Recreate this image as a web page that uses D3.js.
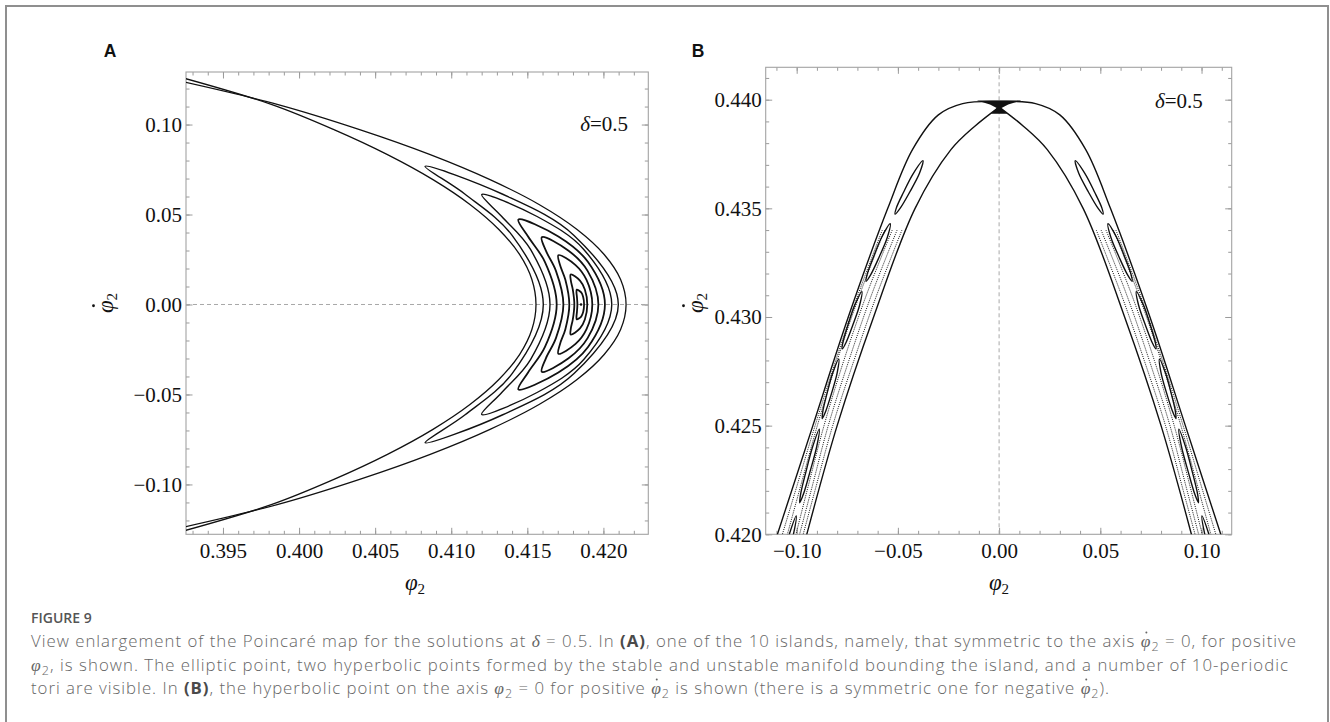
<!DOCTYPE html>
<html><head><meta charset="utf-8">
<script src="https://cdn.jsdelivr.net/npm/d3@7"></script>
<style>
body{margin:0;background:#fff;}
svg{display:block;}
</style></head><body>
<svg id="chart" width="1330" height="722"></svg>
<script>
// ---------------- DATA ----------------
// Panel A
const aXDomain = [0.39257, 0.42295];
const aYDomain = [-0.1277, 0.1292];
const aXMajor = [0.395, 0.400, 0.405, 0.410, 0.415, 0.420];
const aYMajor = [-0.10, -0.05, 0.00, 0.05, 0.10];
const aOuter = [[0.3920,0.1245],[0.39862,0.1111],[0.40398,0.0972],[0.40862,0.0833],[0.41255,0.0694],[0.41577,0.0556],[0.41827,0.0417],[0.42005,0.0278],[0.42113,0.0139],[0.42149,0],[0.42113,-0.0139],[0.42005,-0.0278],[0.41827,-0.0417],[0.41577,-0.0556],[0.41255,-0.0694],[0.40862,-0.0833],[0.40398,-0.0972],[0.39862,-0.1111],[0.3920,-0.1245]];
const aInner = [[0.3920,0.1268],[0.39822,0.1111],[0.40229,0.0972],[0.40581,0.0833],[0.40880,0.0694],[0.41123,0.0556],[0.41313,0.0417],[0.41449,0.0278],[0.41530,0.0139],[0.41557,0],[0.41530,-0.0139],[0.41449,-0.0278],[0.41313,-0.0417],[0.41123,-0.0556],[0.40880,-0.0694],[0.40581,-0.0833],[0.40229,-0.0972],[0.39822,-0.1111],[0.3920,-0.1268]];
const aLoop1 = [[0.40828,0.0768],[0.41335,0.0614],[0.41807,0.0384],[0.42098,0],[0.41807,-0.0384],[0.41335,-0.0614],[0.40828,-0.0768],[0.41089,-0.0614],[0.41400,-0.0384],[0.41605,0],[0.41400,0.0384],[0.41089,0.0614]];
const aLoop2 = [[0.41200,0.0611],[0.41564,0.0489],[0.41871,0.0306],[0.42055,0],[0.41871,-0.0306],[0.41564,-0.0489],[0.41200,-0.0611],[0.41332,-0.0489],[0.41521,-0.0306],[0.41649,0],[0.41521,0.0306],[0.41332,0.0489]];
const aLoop3 = [[0.41441,0.0472],[0.41704,0.0378],[0.41899,0.0236],[0.42010,0],[0.41899,-0.0236],[0.41704,-0.0378],[0.41441,-0.0472],[0.41505,-0.0378],[0.41616,-0.0236],[0.41693,0],[0.41616,0.0236],[0.41505,0.0378]];
const aLoop4 = [[0.41595,0.0374],[0.41771,0.0299],[0.41896,0.0187],[0.41967,0],[0.41896,-0.0187],[0.41771,-0.0299],[0.41595,-0.0374],[0.41622,-0.0299],[0.41688,-0.0187],[0.41737,0],[0.41688,0.0187],[0.41622,0.0299]];
const aLoop5 = [[0.41704,0.0274],[0.41817,0.0219],[0.41889,0.0137],[0.41927,0],[0.41889,-0.0137],[0.41817,-0.0219],[0.41704,-0.0274],[0.41715,-0.0219],[0.41750,-0.0137],[0.41776,0],[0.41750,0.0137],[0.41715,0.0219]];
const aLoop6 = [[0.41785,0.0167],[0.41846,0.0133],[0.41878,0.0083],[0.41894,0],[0.41878,-0.0083],[0.41846,-0.0133],[0.41785,-0.0167],[0.41786,-0.0133],[0.41799,-0.0083],[0.41809,0],[0.41799,0.0083],[0.41786,0.0133]];
const aLoop7 = [[0.41825,0.0083],[0.41854,0.0067],[0.41867,0.0042],[0.41873,0],[0.41867,-0.0042],[0.41854,-0.0067],[0.41825,-0.0083],[0.41823,-0.0067],[0.41826,-0.0042],[0.41829,0],[0.41826,0.0042],[0.41823,0.0067]];
const aCenter = [[0.41853, 0]];

// Panel B
const bXDomain = [-0.1153, 0.1149];
const bYDomain = [0.420, 0.44149];
const bXMajor = [-0.10, -0.05, 0.00, 0.05, 0.10];
const bYMajor = [0.420, 0.425, 0.430, 0.435, 0.440];
const bOuter = [[-0.1165,0.418],[-0.1095,0.420],[-0.092,0.425],[-0.0745,0.430],[-0.055,0.435],[-0.0428,0.4377],[-0.030,0.4393],[-0.018,0.43982],[0,0.43992],[0.018,0.43982],[0.030,0.4393],[0.0428,0.4377],[0.055,0.435],[0.0745,0.430],[0.092,0.425],[0.1095,0.420],[0.1165,0.418]];
const bInnerLeft = [[-0.1005,0.418],[-0.095,0.420],[-0.080,0.425],[-0.062,0.430],[-0.0415,0.435],[-0.0238,0.4377],[-0.012,0.43878],[0,0.43966]];
const bInnerRight = [[0,0.43966],[0.012,0.43878],[0.0238,0.4377],[0.0415,0.435],[0.062,0.430],[0.080,0.425],[0.095,0.420],[0.1005,0.418]];
const bBlob = [[-0.011,0.43996],[0.011,0.43996],[0.0045,0.43978],[0.0012,0.43962],[0.004,0.43935],[-0.004,0.43935],[-0.0012,0.43962],[-0.0045,0.43978]];
const bIslandsLeft = [
  [[-0.0376,0.43719],[-0.04234,0.43661],[-0.0472,0.43574],[-0.05075,0.43502],[-0.05137,0.43473],[-0.04875,0.43502],[-0.0442,0.43574],[-0.03934,0.43661]],
  [[-0.0538,0.43429],[-0.0580,0.43367],[-0.0622,0.43273],[-0.0652,0.43195],[-0.0657,0.43164],[-0.0634,0.43195],[-0.0594,0.43273],[-0.0552,0.43367]],
  [[-0.0678,0.43117],[-0.07128,0.43055],[-0.0747,0.42962],[-0.07715,0.42884],[-0.07749,0.42853],[-0.07555,0.42884],[-0.0723,0.42962],[-0.06888,0.43055]],
  [[-0.0792,0.42806],[-0.08222,0.42742],[-0.0851,0.42645],[-0.0871,0.42565],[-0.08736,0.42532],[-0.0857,0.42565],[-0.0829,0.42645],[-0.08002,0.42742]],
  [[-0.0888,0.42484],[-0.09208,0.42404],[-0.0955,0.42285],[-0.09805,0.42185],[-0.09849,0.42145],[-0.09665,0.42185],[-0.0935,0.42285],[-0.09008,0.42404]],
  [[-0.1002,0.42085],[-0.10348,0.42005],[-0.1069,0.41886],[-0.10945,0.41786],[-0.10989,0.41746],[-0.10805,0.41786],[-0.1049,0.41886],[-0.10148,0.42005]]
];
const bIslandsRight = [
  [[0.0376,0.43719],[0.04234,0.43661],[0.0472,0.43574],[0.05075,0.43502],[0.05137,0.43473],[0.04875,0.43502],[0.0442,0.43574],[0.03934,0.43661]],
  [[0.0538,0.43429],[0.0580,0.43367],[0.0622,0.43273],[0.0652,0.43195],[0.0657,0.43164],[0.0634,0.43195],[0.0594,0.43273],[0.0552,0.43367]],
  [[0.0678,0.43117],[0.07128,0.43055],[0.0747,0.42962],[0.07715,0.42884],[0.07749,0.42853],[0.07555,0.42884],[0.0723,0.42962],[0.06888,0.43055]],
  [[0.0792,0.42806],[0.08222,0.42742],[0.0851,0.42645],[0.0871,0.42565],[0.08736,0.42532],[0.0857,0.42565],[0.0829,0.42645],[0.08002,0.42742]],
  [[0.0888,0.42484],[0.09208,0.42404],[0.0955,0.42285],[0.09805,0.42185],[0.09849,0.42145],[0.09665,0.42185],[0.0935,0.42285],[0.09008,0.42404]],
  [[0.1002,0.42085],[0.10348,0.42005],[0.1069,0.41886],[0.10945,0.41786],[0.10989,0.41746],[0.10805,0.41786],[0.1049,0.41886],[0.10148,0.42005]]
];
const bChaosLeft = [
  [[-0.0577,0.434],[-0.0698,0.431],[-0.0807,0.428],[-0.0909,0.425],[-0.1006,0.422],[-0.1119,0.4185]],
  [[-0.0565,0.434],[-0.0690,0.431],[-0.0800,0.428],[-0.0898,0.425],[-0.0987,0.422],[-0.1090,0.4185]],
  [[-0.0528,0.434],[-0.0656,0.431],[-0.0767,0.428],[-0.0865,0.425],[-0.0949,0.422],[-0.1044,0.4185]],
  [[-0.0504,0.434],[-0.0631,0.431],[-0.0742,0.428],[-0.0844,0.425],[-0.0929,0.422],[-0.1028,0.4185]],
  [[-0.0480,0.434],[-0.0605,0.431],[-0.0717,0.428],[-0.0822,0.425],[-0.0910,0.422],[-0.1011,0.4185]]
];
const bChaosRight = [
  [[0.0577,0.434],[0.0698,0.431],[0.0807,0.428],[0.0909,0.425],[0.1006,0.422],[0.1119,0.4185]],
  [[0.0565,0.434],[0.0690,0.431],[0.0800,0.428],[0.0898,0.425],[0.0987,0.422],[0.1090,0.4185]],
  [[0.0528,0.434],[0.0656,0.431],[0.0767,0.428],[0.0865,0.425],[0.0949,0.422],[0.1044,0.4185]],
  [[0.0504,0.434],[0.0631,0.431],[0.0742,0.428],[0.0844,0.425],[0.0929,0.422],[0.1028,0.4185]],
  [[0.0480,0.434],[0.0605,0.431],[0.0717,0.428],[0.0822,0.425],[0.0910,0.422],[0.1011,0.4185]]
];

const deltaLabel = "0.5";
const captionTitle = "FIGURE 9";
// segment styles: "" plain, "m" math italic, "md" math italic with dot above, "b" bold, "s" subscript
const captionLines = [
  [["View enlargement of the Poincaré map for the solutions at ",""],["δ","m"],[" = 0.5. In ",""],["(A)","b"],[", one of the 10 islands, namely, that symmetric to the axis ",""],["φ","md"],["2","s"],[" = 0, for positive",""]],
  [["φ","m"],["2","s"],[", is shown. The elliptic point, two hyperbolic points formed by the stable and unstable manifold bounding the island, and a number of 10-periodic",""]],
  [["tori are visible. In ",""],["(B)","b"],[", the hyperbolic point on the axis ",""],["φ","m"],["2","s"],[" = 0 for positive ",""],["φ","md"],["2","s"],[" is shown (there is a symmetric one for negative ",""],["φ","md"],["2","s"],[").",""]]
];

// ---------------- DRAW ----------------
const svg = d3.select("#chart");
const SERIF = "'Liberation Serif','Times New Roman',serif";
const SANS = "'Liberation Sans',Arial,sans-serif";
const FRAME = "#a3a3a3";

svg.append("rect").attr("x",6).attr("y",6).attr("width",1322).attr("height",760)
  .attr("fill","none").attr("stroke","#8f8f8f").attr("stroke-width",2);

function panel(o){
  const g = svg.append("g");
  const [x0,x1] = o.x.range(), [y0,y1] = o.y.range();
  const cid = "clip"+o.id;
  g.append("clipPath").attr("id",cid).append("rect")
    .attr("x",x0).attr("y",y1).attr("width",x1-x0).attr("height",y0-y1);
  const style = sel => {
    sel.select(".domain").remove();
    sel.selectAll(".tick line").attr("stroke","#9a9a9a").attr("stroke-width",1);
    sel.selectAll(".tick text").attr("font-family",SERIF).attr("font-size",21).attr("fill","#111");
  };
  const blank = () => "";
  g.append("g").attr("transform",`translate(0,${y0})`).call(d3.axisBottom(o.x).tickValues(o.xMinor).tickSizeInner(-3.5).tickSizeOuter(0).tickFormat(blank)).call(style);
  g.append("g").attr("transform",`translate(0,${y0})`).call(d3.axisBottom(o.x).tickValues(o.xMajor).tickSizeInner(-6.5).tickSizeOuter(0).tickPadding(9).tickFormat(o.xFmt)).call(style);
  g.append("g").attr("transform",`translate(0,${y1})`).call(d3.axisTop(o.x).tickValues(o.xMinor).tickSizeInner(-3.5).tickSizeOuter(0).tickFormat(blank)).call(style);
  g.append("g").attr("transform",`translate(0,${y1})`).call(d3.axisTop(o.x).tickValues(o.xMajor).tickSizeInner(-6.5).tickSizeOuter(0).tickFormat(blank)).call(style);
  g.append("g").attr("transform",`translate(${x0},0)`).call(d3.axisLeft(o.y).tickValues(o.yMinor).tickSizeInner(-3.5).tickSizeOuter(0).tickFormat(blank)).call(style);
  g.append("g").attr("transform",`translate(${x0},0)`).call(d3.axisLeft(o.y).tickValues(o.yMajor).tickSizeInner(-6.5).tickSizeOuter(0).tickPadding(4).tickFormat(o.yFmt)).call(style);
  g.append("g").attr("transform",`translate(${x1},0)`).call(d3.axisRight(o.y).tickValues(o.yMinor).tickSizeInner(-3.5).tickSizeOuter(0).tickFormat(blank)).call(style);
  g.append("g").attr("transform",`translate(${x1},0)`).call(d3.axisRight(o.y).tickValues(o.yMajor).tickSizeInner(-6.5).tickSizeOuter(0).tickFormat(blank)).call(style);
  g.append("rect").attr("x",x0).attr("y",y1).attr("width",x1-x0).attr("height",y0-y1)
    .attr("fill","none").attr("stroke",FRAME).attr("stroke-width",1.1);
  const plot = g.append("g").attr("clip-path",`url(#${cid})`);
  return {g, plot};
}

// ---- Panel A ----
const xA = d3.scaleLinear().domain(aXDomain).range([186, 648.3]);
const yA = d3.scaleLinear().domain(aYDomain).range([534.3, 72]);
const A = panel({id:"A", x:xA, y:yA, xMajor:aXMajor, yMajor:aYMajor,
  xMinor:d3.range(0.393,0.4225,0.001), yMinor:d3.range(-0.12,0.1205,0.01),
  xFmt:d3.format(".3f"), yFmt:d3.format(".2f")});
A.plot.append("line").attr("x1",xA(aXDomain[0])).attr("x2",xA(aXDomain[1])).attr("y1",yA(0)).attr("y2",yA(0))
  .attr("stroke","#a8a8a8").attr("stroke-width",1).attr("stroke-dasharray","4,3");
const lineA = (curve) => d3.line().x(d=>xA(d[0])).y(d=>yA(d[1])).curve(curve);
[aOuter, aInner].forEach(c => A.plot.append("path").attr("d", lineA(d3.curveCatmullRom.alpha(0.5))(c))
  .attr("fill","none").attr("stroke","#111").attr("stroke-width",1.3));
[aLoop1,aLoop2,aLoop3,aLoop4,aLoop5,aLoop6,aLoop7].forEach((c,i) => A.plot.append("path")
  .attr("d", lineA(d3.curveCatmullRomClosed.alpha(0.5))(c))
  .attr("fill","none").attr("stroke","#111").attr("stroke-width", i<2 ? 1.4 : 1.8));
A.plot.selectAll("circle.c").data(aCenter).join("circle").attr("cx",d=>xA(d[0])).attr("cy",d=>yA(d[1])).attr("r",1.3).attr("fill","#111");

// ---- Panel B ----
const xB = d3.scaleLinear().domain(bXDomain).range([765.7, 1231.7]);
const yB = d3.scaleLinear().domain(bYDomain).range([534.3, 67.3]);
const B = panel({id:"B", x:xB, y:yB, xMajor:bXMajor, yMajor:bYMajor,
  xMinor:d3.range(-0.11,0.1105,0.01), yMinor:d3.range(0.420,0.4415,0.001),
  xFmt:d3.format(".2f"), yFmt:d3.format(".3f")});
B.plot.append("line").attr("x1",xB(0)).attr("x2",xB(0)).attr("y1",yB(bYDomain[0])).attr("y2",yB(bYDomain[1]))
  .attr("stroke","#a8a8a8").attr("stroke-width",1).attr("stroke-dasharray","4,3");
const lineB = (curve) => d3.line().x(d=>xB(d[0])).y(d=>yB(d[1])).curve(curve);
[...bChaosLeft, ...bChaosRight].forEach(c => B.plot.append("path").attr("d", lineB(d3.curveCatmullRom.alpha(0.5))(c))
  .attr("fill","none").attr("stroke","#222").attr("stroke-width",1).attr("stroke-dasharray","1.1,1.1"));
[bOuter, bInnerLeft, bInnerRight].forEach(c => B.plot.append("path").attr("d", lineB(d3.curveCatmullRom.alpha(0.5))(c))
  .attr("fill","none").attr("stroke","#111").attr("stroke-width",1.4));
[...bIslandsLeft, ...bIslandsRight].forEach(c => B.plot.append("path").attr("d", lineB(d3.curveCatmullRomClosed.alpha(0.5))(c))
  .attr("fill","none").attr("stroke","#111").attr("stroke-width",1.4));
B.plot.append("path").attr("d", lineB(d3.curveLinearClosed)(bBlob)).attr("fill","#111");

// ---- labels ----
function phiLabel(x, y, dot, rotate){
  const g = svg.append("g").attr("transform",`translate(${x},${y})${rotate?" rotate(-90)":""}`);
  const t = g.append("text").attr("text-anchor","middle").attr("font-family",SERIF).attr("fill","#111");
  t.append("tspan").attr("font-style","italic").attr("font-size",23).text("φ");
  t.append("tspan").attr("font-size",15).attr("dy",4).text("2");
  if (dot) {
    const e = t.node().getExtentOfChar(0);
    g.append("circle").attr("cx", e.x + e.width*0.58).attr("cy", -19.5).attr("r", 1.4).attr("fill","#111");
  }
}
phiLabel(415, 590, false, false);
phiLabel(999, 590, false, false);
phiLabel(113, 303, true, true);
phiLabel(703, 303, true, true);

function deltaText(x, y, anchor){
  const t = svg.append("text").attr("x",x).attr("y",y).attr("text-anchor",anchor)
    .attr("font-family",SERIF).attr("font-size",21).attr("fill","#111");
  t.append("tspan").attr("font-style","italic").text("δ");
  t.append("tspan").text("=" + deltaLabel);
}
deltaText(628, 131, "end");
deltaText(1155, 108, "start");

svg.append("text").attr("x",110).attr("y",57).attr("text-anchor","middle").attr("font-family",SANS)
  .attr("font-weight","bold").attr("font-size",17.5).attr("fill","#111").text("A");
svg.append("text").attr("x",698).attr("y",57).attr("text-anchor","middle").attr("font-family",SANS)
  .attr("font-weight","bold").attr("font-size",17.5).attr("fill","#111").text("B");

// ---- caption ----
const CAP = "'Open Sans',Lato,sans-serif";
svg.append("text").attr("x",31).attr("y",623).attr("font-family",CAP).attr("font-weight",600)
  .attr("font-size",14).attr("fill","#555").text(captionTitle);
const capBase = [647, 670.5, 694];
const capLen = [1265, 1257, 1078];
captionLines.forEach((segs, i) => {
  const t = svg.append("text").attr("x",31).attr("y",capBase[i]).attr("font-family",CAP)
    .attr("font-size",16.8).attr("font-weight",300).attr("fill","#666")
    .attr("textLength",capLen[i]).attr("lengthAdjust","spacing");
  let shift = 0, idx = 0;
  const dots = [];
  segs.forEach(([txt, st]) => {
    const ts = t.append("tspan").text(txt);
    let target = 0;
    if (st === "m" || st === "md") ts.attr("font-family",SERIF).attr("font-style","italic").attr("font-size",17.5);
    if (st === "md") dots.push(idx);
    if (st === "b") ts.attr("font-weight",700).attr("fill","#4a4a4a");
    if (st === "s") { target = 4; ts.attr("font-size",12.5); }
    if (target !== shift) { ts.attr("dy", target - shift); shift = target; }
    idx += txt.length;
  });
  dots.forEach(k => {
    const e = t.node().getExtentOfChar(k);
    svg.append("circle").attr("cx", e.x + e.width*0.58).attr("cy", capBase[i] - 14.5).attr("r", 1).attr("fill","#666");
  });
});
</script></body></html>
